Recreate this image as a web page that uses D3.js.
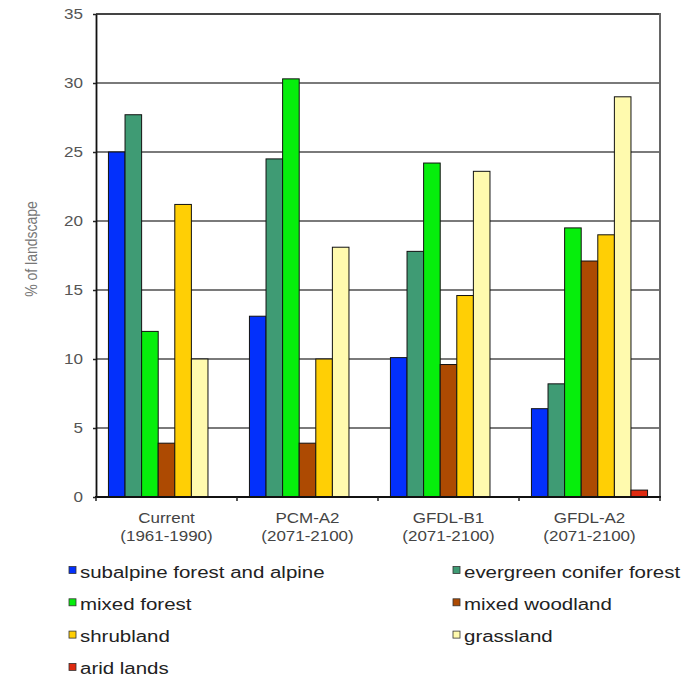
<!DOCTYPE html>
<html>
<head>
<meta charset="utf-8">
<script src="https://cdn.jsdelivr.net/npm/d3@7"></script>
<style>
  html, body { margin: 0; padding: 0; background: #fff; }
  svg { display: block; font-family: "Liberation Sans", Arial, Helvetica, sans-serif; }
</style>
</head>
<body>
<svg id="chart" width="696" height="683"></svg>
<script>
// ---- data ----
const categories = ["Current", "PCM-A2", "GFDL-B1", "GFDL-A2"];
const periods = ["(1961-1990)", "(2071-2100)", "(2071-2100)", "(2071-2100)"];
const seriesNames = [
  "subalpine forest and alpine",
  "evergreen conifer forest",
  "mixed forest",
  "mixed woodland",
  "shrubland",
  "grassland",
  "arid lands"
];
const subalpine     = [25.0, 13.1, 10.1, 6.4];
const evergreen     = [27.7, 24.5, 17.8, 8.2];
const mixedForest   = [12.0, 30.3, 24.2, 19.5];
const mixedWoodland = [3.9, 3.9, 9.6, 17.1];
const shrubland     = [21.2, 10.0, 14.6, 19.0];
const grassland     = [10.0, 18.1, 23.6, 29.0];
const aridLands     = [0, 0, 0, 0.5];
const yTicks = [0, 5, 10, 15, 20, 25, 30, 35];
const yTitle = "% of landscape";

const seriesValues = [subalpine, evergreen, mixedForest, mixedWoodland, shrubland, grassland, aridLands];
const colors = ["#0330fb", "#3f9b74", "#06ee0c", "#ad4a02", "#ffcf05", "#fffaae", "#de2a10"];

// ---- layout ----
const L = 96, R = 660, T = 14, B = 497;
const SX = 1.22; // horizontal stretch of the reference's text

const svg = d3.select("#chart");

const x0 = d3.scaleBand().domain(categories).range([L, R]).paddingInner(0).paddingOuter(0);
const x1 = d3.scaleBand().domain(seriesNames).range([0, x0.bandwidth()]).paddingInner(0).paddingOuter(0.75);
const y = d3.scaleLinear().domain([0, 35]).range([B, T]);

// gridlines
svg.append("g").selectAll("line").data(yTicks.filter(d => d > 0)).join("line")
  .attr("x1", L).attr("x2", R)
  .attr("y1", d => y(d)).attr("y2", d => y(d))
  .attr("stroke", d => d === 35 ? "#444" : "#7a7a7a")
  .attr("stroke-width", 2);

// right border
svg.append("line").attr("x1", R).attr("x2", R).attr("y1", T - 1).attr("y2", B)
  .attr("stroke", "#666").attr("stroke-width", 2);

// bars
const rows = [];
categories.forEach((c, ci) => seriesNames.forEach((s, si) => rows.push({ c, s, si, v: seriesValues[si][ci] })));
svg.append("g").selectAll("rect").data(rows.filter(d => d.v > 0)).join("rect")
  .attr("x", d => x0(d.c) + x1(d.s))
  .attr("width", x1.bandwidth())
  .attr("y", d => y(d.v))
  .attr("height", d => y(0) - y(d.v))
  .attr("fill", d => colors[d.si])
  .attr("stroke", "#111")
  .attr("stroke-width", 1);

// y axis
const yAxis = svg.append("g").attr("transform", `translate(${L},0)`)
  .call(d3.axisLeft(y).tickValues(yTicks).tickSize(3).tickPadding(7.6).tickSizeOuter(0));
yAxis.select(".domain").attr("stroke", "#111").attr("stroke-width", 1.8);
yAxis.selectAll(".tick line").attr("stroke", "#222").attr("stroke-width", 1.5);
yAxis.selectAll(".tick text")
  .attr("font-size", 14).attr("fill", "#555")
  .attr("font-family", "Liberation Sans, Arial, sans-serif")
  .attr("transform", `scale(${SX},1)`);

// x axis
svg.append("line").attr("x1", L - 1).attr("x2", R + 1).attr("y1", B).attr("y2", B)
  .attr("stroke", "#111").attr("stroke-width", 1.8);
const bounds = categories.map(c => x0(c)).concat([R]);
svg.append("g").selectAll("line").data(bounds).join("line")
  .attr("x1", d => d).attr("x2", d => d).attr("y1", B).attr("y2", B + 4)
  .attr("stroke", "#222").attr("stroke-width", 1.5);

const catG = svg.append("g").selectAll("g").data(categories).join("g")
  .attr("transform", d => `translate(${x0(d) + x0.bandwidth() / 2},0)`);
catG.append("text")
  .attr("transform", `translate(0,523) scale(1.17,1)`)
  .attr("text-anchor", "middle").attr("font-size", 14.5).attr("fill", "#444")
  .text(d => d);
catG.append("text")
  .attr("transform", `translate(0,541) scale(1.17,1)`)
  .attr("text-anchor", "middle").attr("font-size", 14.5).attr("fill", "#444")
  .text((d, i) => periods[i]);

// y title
svg.append("text")
  .attr("transform", `translate(37,249) scale(1.15,1) rotate(-90)`)
  .attr("text-anchor", "middle").attr("font-size", 14).attr("fill", "#777")
  .text(yTitle);

// legend
const legG = svg.append("g").selectAll("g").data(seriesNames).join("g")
  .attr("transform", (d, i) => `translate(${i % 2 === 0 ? 69 : 453},${570.5 + Math.floor(i / 2) * 32.3})`);
legG.append("rect")
  .attr("x", 0).attr("y", -4).attr("width", 7).attr("height", 7)
  .attr("fill", (d, i) => colors[i]).attr("stroke", "#333").attr("stroke-width", 0.8);
legG.append("text")
  .attr("transform", `translate(${11},7) scale(1.28,1)`)
  .attr("font-size", 16).attr("fill", "#222")
  .text(d => d);
</script>
</body>
</html>
